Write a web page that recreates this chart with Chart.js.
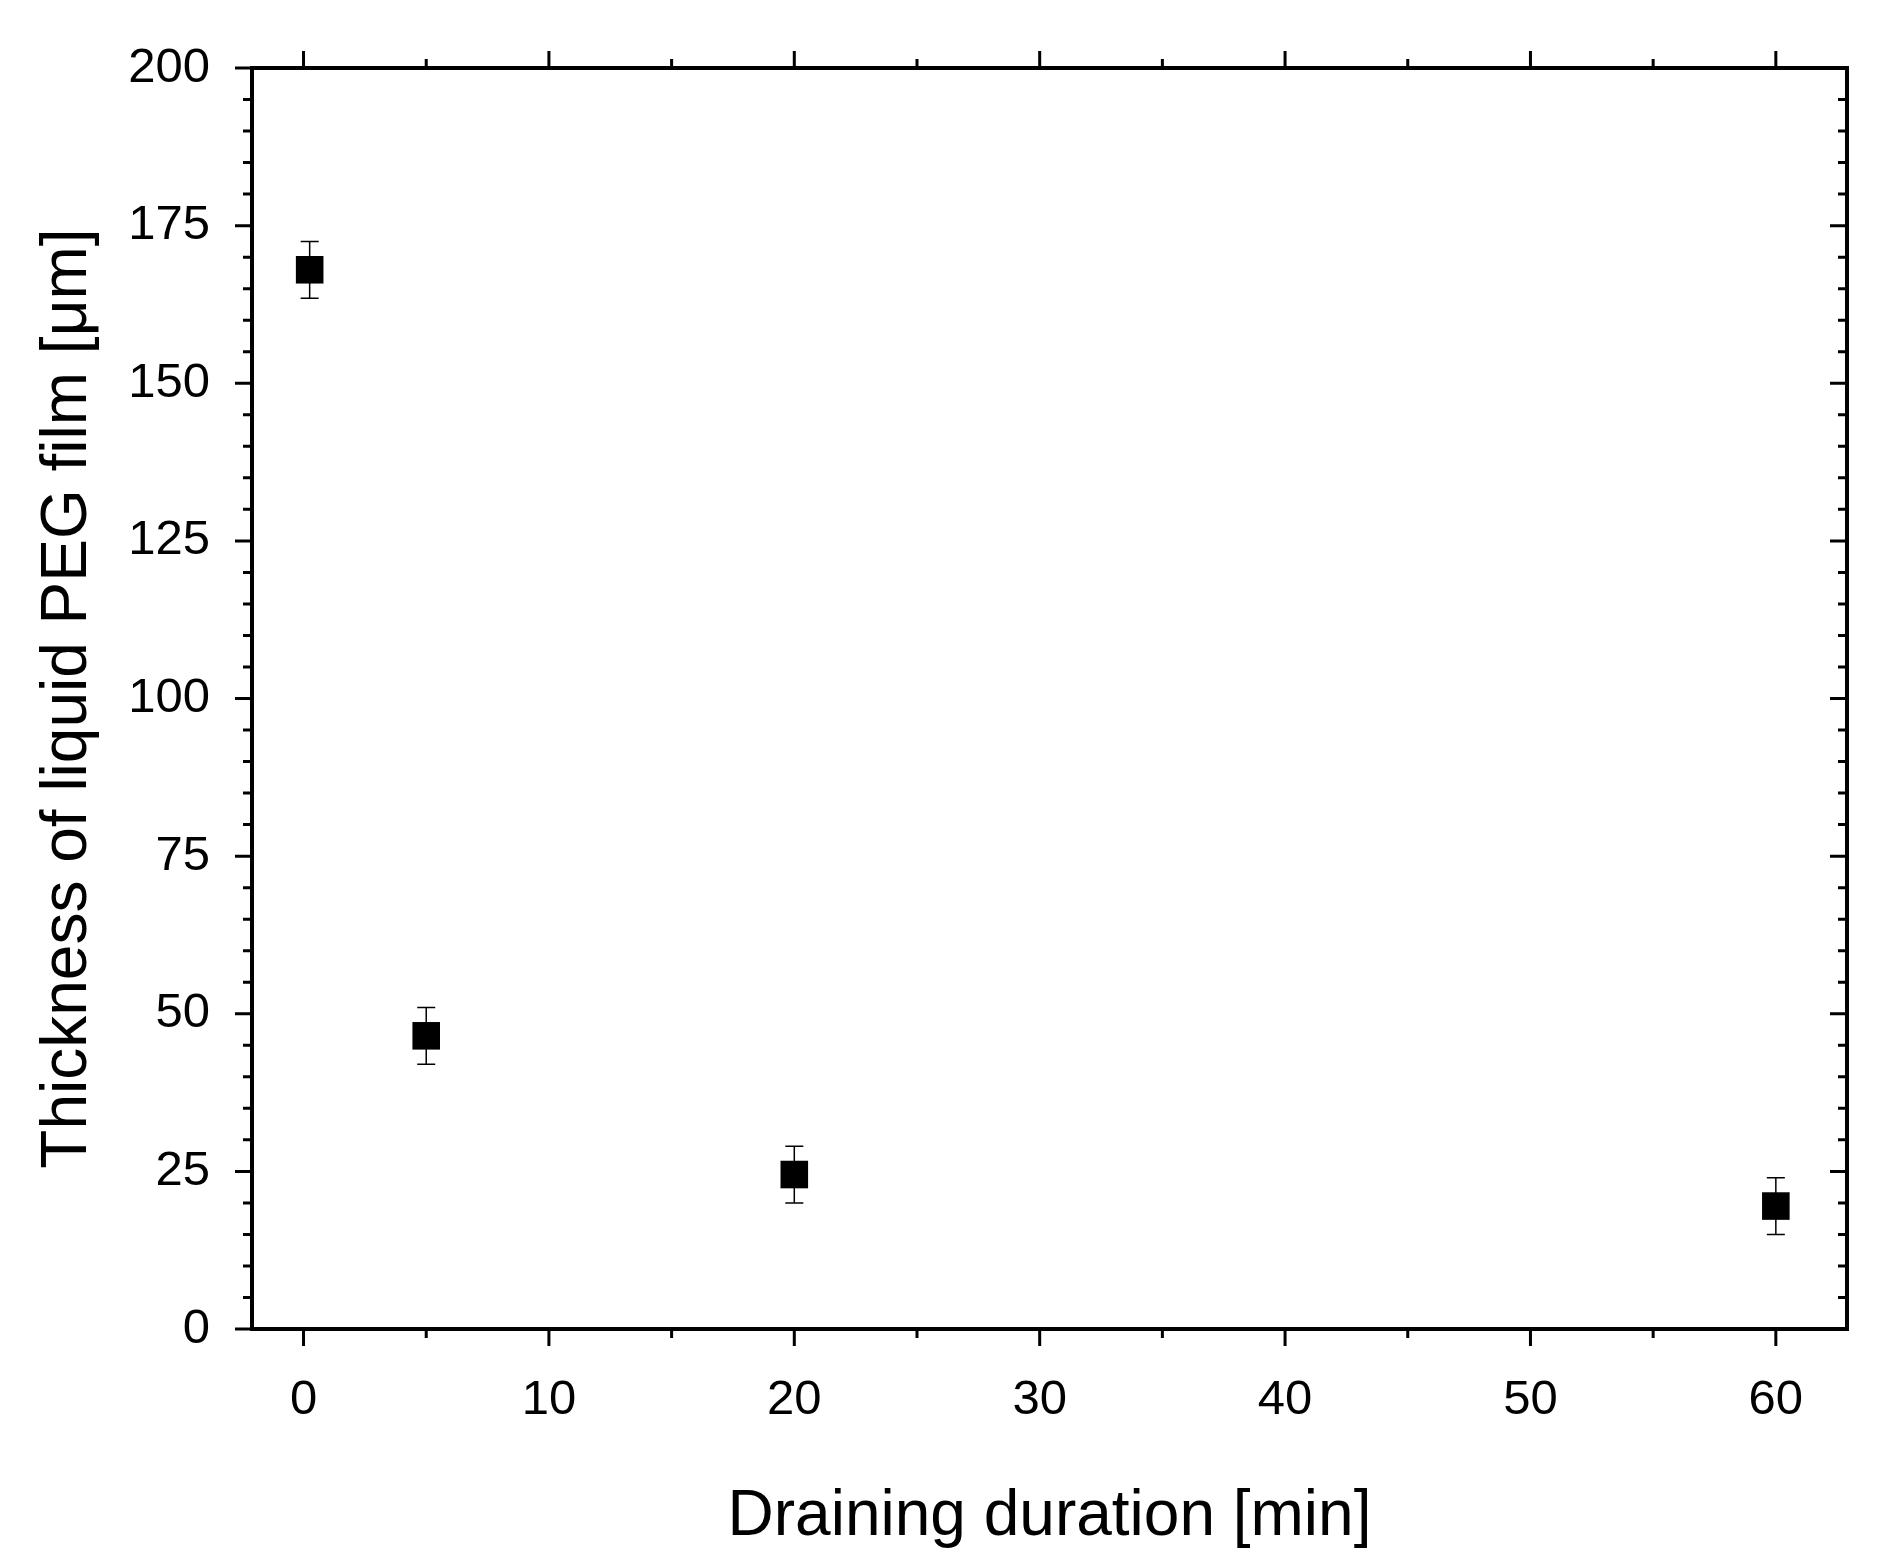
<!DOCTYPE html>
<html>
<head>
<meta charset="utf-8">
<script src="https://cdn.jsdelivr.net/npm/chart.js@4"></script>
<style>
  html, body { margin: 0; padding: 0; background: #fff; }
  #wrap { width: 1892px; height: 1560px; }
</style>
</head>
<body>
<div id="wrap"><canvas id="chart" width="1892" height="1560"></canvas></div>
<script>
// --- DATA ---
const durations = [0.25, 5, 20, 60];
const thickness = [168, 46.5, 24.5, 19.5];
const errors = [4.5, 4.5, 4.5, 4.5];
const xTicks = [0, 10, 20, 30, 40, 50, 60];
const yTicks = [0, 25, 50, 75, 100, 125, 150, 175, 200];

const FONT = 'Liberation Sans, Arial, sans-serif';

// axes frame, major/minor ticks, error bars
const framePlugin = {
  id: 'frame',
  afterDatasetsDraw(chart) {
    const { ctx, chartArea: a, scales: { x, y } } = chart;
    ctx.save();
    ctx.strokeStyle = '#000';
    ctx.lineWidth = 4;
    ctx.strokeRect(a.left, a.top, a.right - a.left, a.bottom - a.top);

    ctx.lineWidth = 3;
    ctx.beginPath();
    for (let v = 0; v <= 60; v += 5) {
      const px = x.getPixelForValue(v);
      const len = v % 10 === 0 ? 17 : 9;
      ctx.moveTo(px, a.bottom); ctx.lineTo(px, a.bottom + len);
      ctx.moveTo(px, a.top); ctx.lineTo(px, a.top - len);
    }
    for (let v = 0; v <= 200; v += 5) {
      const py = y.getPixelForValue(v);
      const len = v % 25 === 0 ? 17 : 9;
      ctx.moveTo(a.left, py); ctx.lineTo(a.left - len, py);
      ctx.moveTo(a.right, py); ctx.lineTo(a.right - len, py);
    }
    ctx.stroke();

    // error bars
    ctx.lineWidth = 1.5;
    ctx.beginPath();
    durations.forEach((d, i) => {
      const px = x.getPixelForValue(d);
      const top = y.getPixelForValue(thickness[i] + errors[i]);
      const bot = y.getPixelForValue(thickness[i] - errors[i]);
      ctx.moveTo(px, top); ctx.lineTo(px, bot);
      ctx.moveTo(px - 9, top); ctx.lineTo(px + 9, top);
      ctx.moveTo(px - 9, bot); ctx.lineTo(px + 9, bot);
    });
    ctx.stroke();
    ctx.restore();
  }
};

new Chart(document.getElementById('chart'), {
  type: 'scatter',
  data: {
    datasets: [{
      data: durations.map((d, i) => ({ x: d, y: thickness[i] })),
      pointStyle: 'rect',
      pointRadius: 19.5,
      pointHoverRadius: 19.5,
      backgroundColor: '#000',
      borderColor: '#000',
      borderWidth: 0
    }]
  },
  options: {
    responsive: false,
    animation: false,
    events: [],
    layout: { padding: { top: 68, right: 45, left: 0, bottom: 0 } },
    plugins: { legend: { display: false }, tooltip: { enabled: false } },
    scales: {
      x: {
        type: 'linear', min: -2.1, max: 62.9,
        afterBuildTicks: s => { s.ticks = xTicks.map(v => ({ value: v })); },
        afterFit: s => { s.height = 231; },
        grid: { display: false },
        border: { display: false },
        ticks: { color: '#000', padding: 34, font: { family: FONT, size: 49 } },
        title: { display: true, text: 'Draining duration [min]', color: '#000',
                 padding: { top: 20 }, font: { family: FONT, size: 64 } }
      },
      y: {
        type: 'linear', min: 0, max: 200,
        afterBuildTicks: s => { s.ticks = yTicks.map(v => ({ value: v })); },
        afterFit: s => { s.width = 252; },
        grid: { display: false },
        border: { display: false },
        ticks: { color: '#000', padding: 34, font: { family: FONT, size: 49 } },
        title: { display: true, text: 'Thickness of liquid PEG film [\u03bcm]', color: '#000',
                 padding: { top: 30, bottom: 0 }, font: { family: FONT, size: 64 } }
      }
    }
  },
  plugins: [framePlugin]
});
</script>
</body>
</html>
